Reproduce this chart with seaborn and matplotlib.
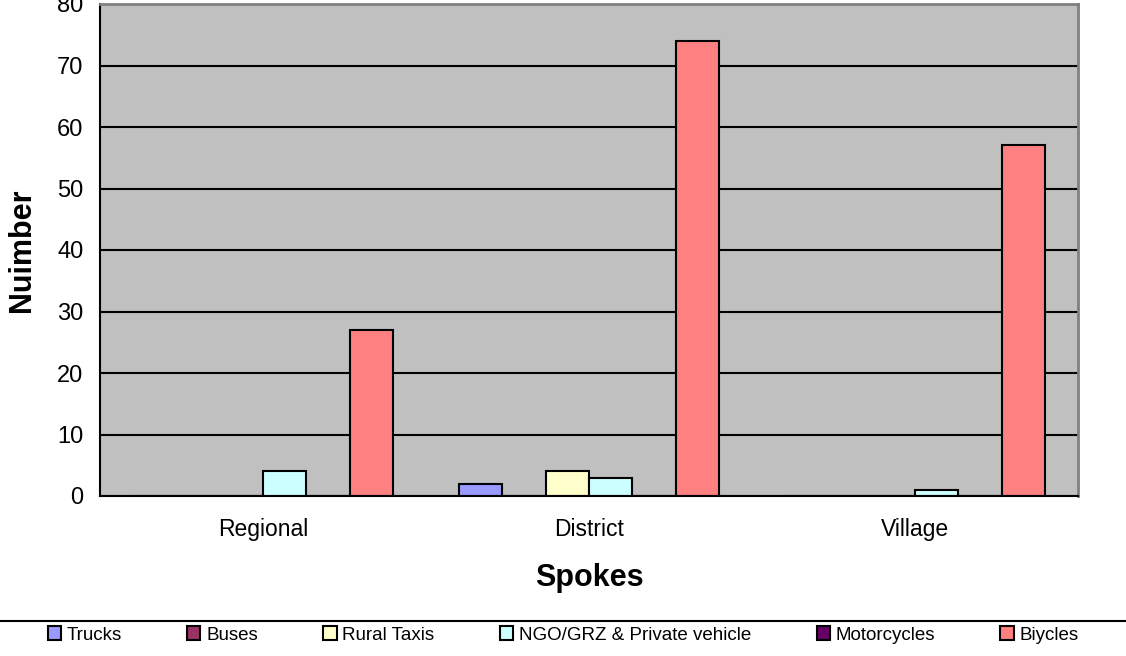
import matplotlib
matplotlib.use("Agg")
import matplotlib.pyplot as plt
from matplotlib.patches import Patch
from matplotlib.lines import Line2D
import seaborn as sns
import pandas as pd

spokes = ["Regional", "District", "Village"]
modes = ["Trucks", "Buses", "Rural Taxis", "NGO/GRZ & Private vehicle", "Motorcycles", "Biycles"]
trucks = [0, 2, 0]
buses = [0, 0, 0]
rural_taxis = [0, 4, 0]
ngo_private = [4, 3, 1]
motorcycles = [0, 0, 0]
bicycles = [27, 74, 57]
colors = ["#9999FF", "#993366", "#FFFFCC", "#CCFFFF", "#660066", "#FF8080"]

series = [trucks, buses, rural_taxis, ngo_private, motorcycles, bicycles]
rows = []
for mode, vals in zip(modes, series):
    for s, v in zip(spokes, vals):
        rows.append({"Spokes": s, "Mode": mode, "Number": v})
df = pd.DataFrame(rows)

sns.set_style("white")
plt.rcParams["font.family"] = ["Liberation Sans", "DejaVu Sans"]
plt.rcParams["text.color"] = "black"
plt.rcParams["xtick.color"] = "black"
plt.rcParams["ytick.color"] = "black"
plt.rcParams["xtick.labelcolor"] = "black"
plt.rcParams["ytick.labelcolor"] = "black"

W, H = 1126, 656
fig = plt.figure(figsize=(W / 100, H / 100), dpi=100)
ax = fig.add_axes([100 / W, 1 - 496 / H, 978 / W, 492 / H])

sns.barplot(data=df, x="Spokes", y="Number", hue="Mode", hue_order=modes,
            palette=colors, saturation=1, edgecolor="black", linewidth=1.5,
            width=0.8, legend=False, ax=ax)

ax.set_facecolor("#C0C0C0")
ax.set_xlim(-0.5, 2.5)
ax.set_ylim(0, 80)
ax.set_yticks(range(0, 81, 10))
ax.yaxis.grid(True, color="black", linewidth=1.5)
ax.set_axisbelow(True)

for side in ["top", "right"]:
    ax.spines[side].set_color("#808080")
    ax.spines[side].set_linewidth(2)
for side in ["left", "bottom"]:
    ax.spines[side].set_color("black")
    ax.spines[side].set_linewidth(1.5)

ax.set_xticks([-0.5, 0.5, 1.5, 2.5], minor=True)
ax.tick_params(axis="x", which="major", length=0, labelsize=16.5, pad=16)
ax.tick_params(axis="x", which="minor", length=8, width=1.5, direction="out")
ax.tick_params(axis="y", length=7, width=1.5, direction="out", labelsize=17, pad=5)
ax.set_xlabel("")
ax.set_ylabel("")

fig.text(589 / W, 1 - 578 / H, "Spokes", fontsize=22, fontweight="bold",
         ha="center", va="center")
fig.text(22 / W, 1 - 250 / H, "Nuimber", fontsize=22, fontweight="bold",
         ha="center", va="center", rotation=90)

# legend frame top line
fig.add_artist(Line2D([0, 1], [1 - 621 / H, 1 - 621 / H], color="black",
                      linewidth=1.5, transform=fig.transFigure))
handles = [Patch(facecolor=c, edgecolor="black", linewidth=1.5) for c in colors]
fig.legend(handles, modes, loc="center", bbox_to_anchor=(0.5, 1 - 635 / H),
           ncol=6, frameon=False, fontsize=13.5, handlelength=0.7,
           handleheight=0.7, handletextpad=0.3, columnspacing=3.5,
           borderaxespad=0)

fig.savefig("out.png", dpi=100)
